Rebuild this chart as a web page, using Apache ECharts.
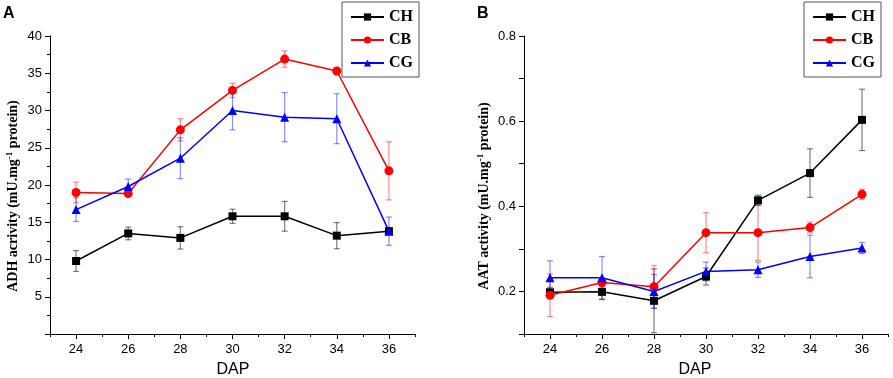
<!DOCTYPE html>
<html>
<head>
<meta charset="utf-8">
<script src="https://cdn.jsdelivr.net/npm/echarts@6/dist/echarts.min.js"></script>
<style>
html,body{margin:0;padding:0;background:#fff;}
#main{width:893px;height:378px;}
</style>
</head>
<body>
<div id="main"></div>
<script>
// 采样时间 (DAP)
var dap = [24, 26, 28, 30, 32, 34, 36];
var dapMajor = [24, 26, 28, 30, 32, 34, 36];
var dapMinor = [23, 25, 27, 29, 31, 33, 35, 37];
var seriesNames = ['CH', 'CB', 'CG'];

// A: ADH
var adhCH = [9.8, 13.5, 12.9, 15.8, 15.8, 13.2, 13.8];
var adhCHErr = [1.4, 0.85, 1.5, 0.95, 2.0, 1.75, 0.4];
var adhCB = [19.0, 18.85, 27.4, 32.7, 36.9, 35.3, 21.9];
var adhCBErr = [1.4, 0.3, 1.5, 0.95, 1.1, 0.2, 3.9];
var adhCG = [16.7, 19.8, 23.6, 30.0, 29.1, 28.9, 13.8];
var adhCGErr = [1.6, 1.0, 2.75, 2.6, 3.3, 3.35, 1.9];

// B: AAT
var aatCH = [0.198, 0.199, 0.178, 0.235, 0.414, 0.478, 0.603];
var aatCHErr = [0.012, 0.018, 0.075, 0.02, 0.012, 0.057, 0.072];
var aatCB = [0.191, 0.221, 0.211, 0.338, 0.338, 0.350, 0.428];
var aatCBErr = [0.05, 0.01, 0.05, 0.047, 0.065, 0.013, 0.012];
var aatCG = [0.232, 0.232, 0.200, 0.247, 0.251, 0.282, 0.302];
var aatCGErr = [0.04, 0.05, 0.04, 0.022, 0.018, 0.05, 0.013];

var colors = ['#000000', '#ff0000', '#0000ff'];
var errColors = ['rgba(0,0,0,0.5)', 'rgba(255,0,0,0.45)', 'rgba(0,0,255,0.45)'];
var symbols = ['rect', 'circle', 'triangle'];
var symbolSizes = [8, 9, 9];

var sansFont = '"Liberation Sans", Arial, sans-serif';
var serifFont = '"Liberation Serif", "Times New Roman", serif';

function pairs(vals) {
	var out = [];
	for (var i = 0; i < dap.length; i++) {
		out.push([dap[i], vals[i]]);
	}
	return out;
}
function errPairs(vals, errs) {
	var out = [];
	for (var i = 0; i < dap.length; i++) {
		out.push([dap[i], vals[i], errs[i]]);
	}
	return out;
}

// 误差线
function renderErr(color) {
	return function (params, api) {
		var x = api.value(0), y = api.value(1), e = api.value(2);
		var top = api.coord([x, y + e]);
		var bot = api.coord([x, y - e]);
		var w = 3;
		var st = { stroke: color, lineWidth: 1.2 };
		return {
			type: 'group',
			children: [
				{ type: 'line', shape: { x1: top[0], y1: top[1], x2: bot[0], y2: bot[1] }, style: st },
				{ type: 'line', shape: { x1: top[0] - w, y1: top[1], x2: top[0] + w, y2: top[1] }, style: st },
				{ type: 'line', shape: { x1: bot[0] - w, y1: bot[1], x2: bot[0] + w, y2: bot[1] }, style: st }
			]
		};
	};
}

function xAxes(gridIndex) {
	var base = {
		type: 'value', gridIndex: gridIndex, min: 23, max: 37,
		position: 'bottom', offset: 0,
		splitLine: { show: false },
		axisLine: { show: true, onZero: false, lineStyle: { color: '#000', width: 1 } }
	};
	var minor = Object.assign({}, base, {
		axisTick: { show: true, customValues: dapMinor, length: 3, lineStyle: { color: '#000' } },
		axisLabel: { show: false }
	});
	var major = Object.assign({}, base, {
		axisTick: { show: true, customValues: dapMajor, length: 5, lineStyle: { color: '#000' } },
		axisLabel: { show: true, customValues: dapMajor, color: '#000', fontFamily: sansFont, fontSize: 13, margin: 9 }
	});
	return [minor, major];
}

function lineSeries(names, datas, xIdx, yIdx) {
	var out = [];
	for (var i = 0; i < names.length; i++) {
		out.push({
			name: names[i], type: 'line', xAxisIndex: xIdx, yAxisIndex: yIdx,
			data: pairs(datas[i]), symbol: symbols[i], symbolSize: symbolSizes[i],
			lineStyle: { color: colors[i], width: 1.5 },
			itemStyle: { color: colors[i] },
			z: 3
		});
	}
	return out;
}
function errSeries(datas, errs, xIdx, yIdx) {
	var out = [];
	for (var i = 0; i < datas.length; i++) {
		out.push({
			type: 'custom', xAxisIndex: xIdx, yAxisIndex: yIdx,
			data: errPairs(datas[i], errs[i]),
			renderItem: renderErr(errColors[i]),
			silent: true, z: 2
		});
	}
	return out;
}

var legendBase = {
	orient: 'vertical', top: 2, data: seriesNames,
	itemWidth: 33, itemHeight: 9, itemGap: 7,
	padding: [7, 6, 6, 8],
	borderColor: '#555', borderWidth: 1, backgroundColor: '#fff',
	textStyle: { fontFamily: serifFont, fontWeight: 'bold', fontSize: 16, color: '#000' }
};

var yTitleRich = {
	t: { fontFamily: serifFont, fontWeight: 'bold', fontSize: 14, fill: '#000' },
	s: { fontFamily: serifFont, fontWeight: 'bold', fontSize: 9, fill: '#000', verticalAlign: 'top', padding: [0, 0, 8, 0] }
};

var myChart = echarts.init(document.getElementById('main'), null, { renderer: 'canvas' });

var option = {
	backgroundColor: '#fff',
	animation: false,
	grid: [
		{ left: 50, top: 36, width: 365, height: 298 },
		{ left: 524, top: 36, width: 364, height: 298 }
	],
	xAxis: xAxes(0).concat(xAxes(1)),
	yAxis: [
		{
			type: 'value', gridIndex: 0, min: 0, max: 40, interval: 5,
			splitLine: { show: false },
			axisLine: { show: true, lineStyle: { color: '#000' } },
			axisTick: { show: true, length: 5, lineStyle: { color: '#000' } },
			minorTick: { show: true, splitNumber: 2, length: 3, lineStyle: { color: '#000' } },
			axisLabel: {
				color: '#000', fontFamily: sansFont, fontSize: 13, margin: 8,
				formatter: function (v) { return v === 0 ? '' : String(v); }
			}
		},
		{
			type: 'value', gridIndex: 1, min: 0.1, max: 0.8, interval: 0.1,
			splitLine: { show: false },
			axisLine: { show: true, lineStyle: { color: '#000' } },
			axisTick: { show: true, length: 5, lineStyle: { color: '#000' } },
			axisLabel: {
				color: '#000', fontFamily: sansFont, fontSize: 13, margin: 8,
				formatter: function (v) {
					var k = Math.round(v * 10);
					return k % 2 === 0 ? (k / 10).toFixed(1) : '';
				}
			}
		}
	],
	legend: [
		Object.assign({}, legendBase, { left: 342 }),
		Object.assign({}, legendBase, { left: 804 })
	],
	graphic: [
		{ type: 'text', left: 3, top: 6, style: { text: 'A', font: 'bold 16px ' + sansFont, fill: '#000' } },
		{ type: 'text', left: 477, top: 6, style: { text: 'B', font: 'bold 16px ' + sansFont, fill: '#000' } },
		{
			type: 'text', x: 5, y: 196, rotation: Math.PI / 2,
			style: {
				text: '{t|ADH acrivity (mU.mg}{s|-1}{t| protein)}', rich: yTitleRich,
				align: 'center', verticalAlign: 'top'
			}
		},
		{
			type: 'text', x: 476, y: 196, rotation: Math.PI / 2,
			style: {
				text: '{t|AAT activity (mU.mg}{s|-1}{t| protein)}', rich: yTitleRich,
				align: 'center', verticalAlign: 'top'
			}
		},
		{ type: 'text', x: 233, y: 370, style: { text: 'DAP', font: '16px ' + sansFont, fill: '#000', align: 'center', verticalAlign: 'middle' } },
		{ type: 'text', x: 695, y: 370, style: { text: 'DAP', font: '16px ' + sansFont, fill: '#000', align: 'center', verticalAlign: 'middle' } }
	],
	series: []
		.concat(errSeries([adhCH, adhCB, adhCG], [adhCHErr, adhCBErr, adhCGErr], 0, 0))
		.concat(lineSeries(seriesNames, [adhCH, adhCB, adhCG], 0, 0))
		.concat(errSeries([aatCH, aatCB, aatCG], [aatCHErr, aatCBErr, aatCGErr], 2, 1))
		.concat(lineSeries(seriesNames, [aatCH, aatCB, aatCG], 2, 1))
};

myChart.setOption(option);
</script>
</body>
</html>
